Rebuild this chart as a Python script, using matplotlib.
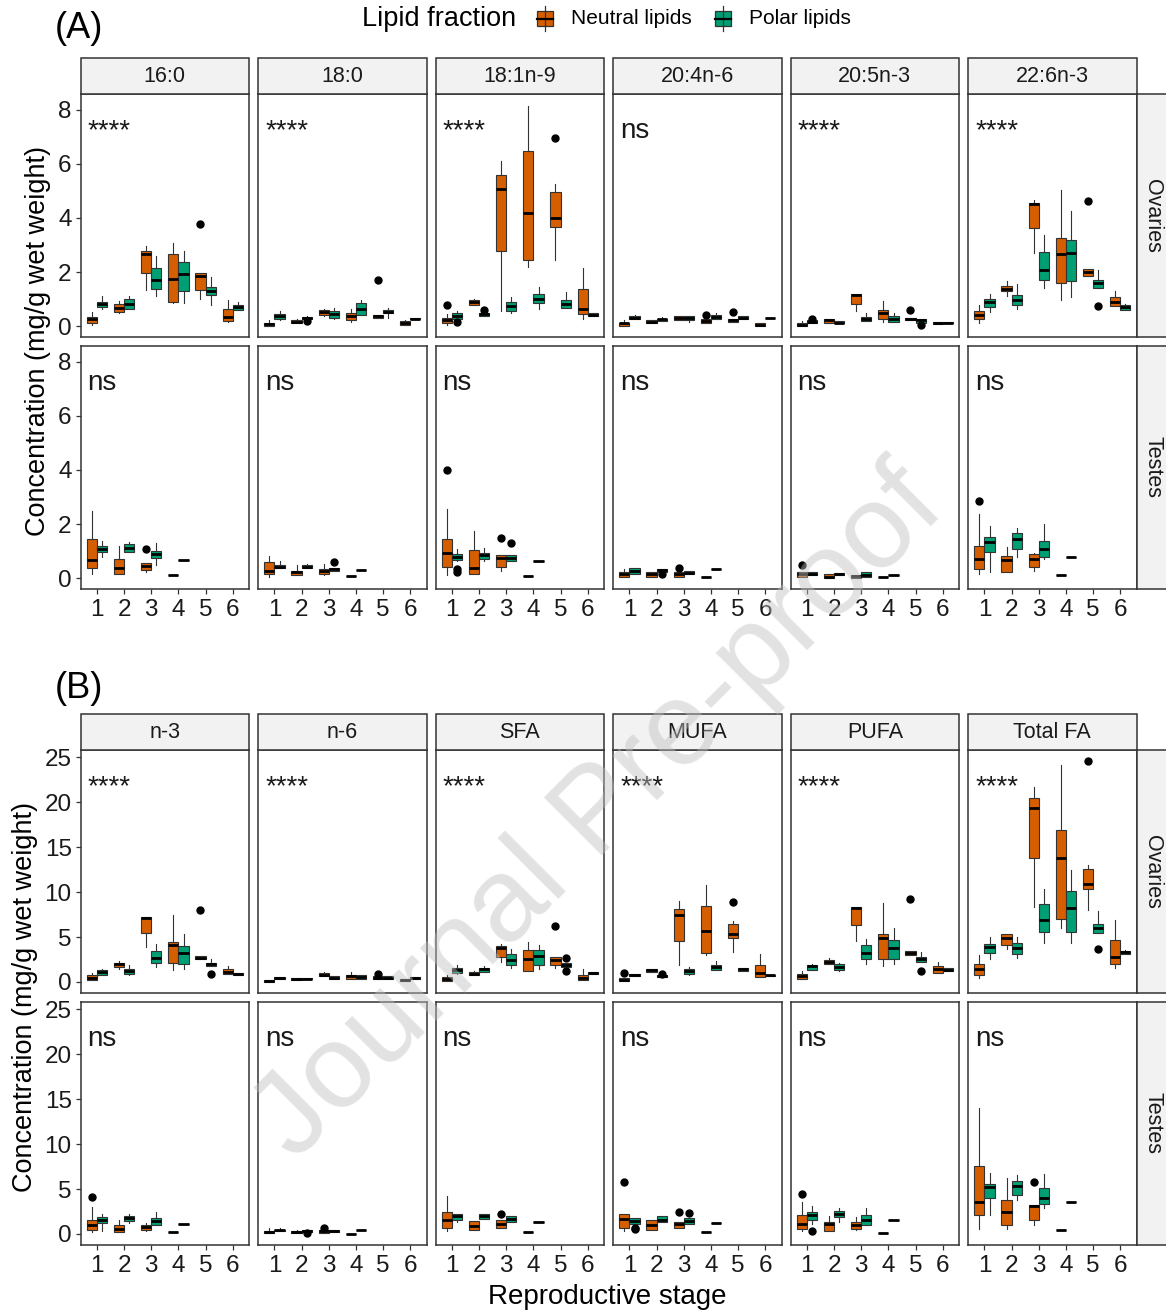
import matplotlib.pyplot as plt
from matplotlib.patches import Rectangle

plt.rcParams['font.family'] = ['Liberation Sans', 'DejaVu Sans']

# ---- data: per stage (lower whisker, q1, median, q3, upper whisker, [outliers]) ----
stages = [1, 2, 3, 4, 5, 6]
fractions = ["Neutral lipids", "Polar lipids"]
colors = ["#D55E00", "#009E73"]
tissues = ["Ovaries", "Testes"]

facets_A = ["16:0", "18:0", "18:1n-9", "20:4n-6", "20:5n-3", "22:6n-3"]
facets_B = ["n-3", "n-6", "SFA", "MUFA", "PUFA", "Total FA"]
signif_A = [("****", "ns"), ("****", "ns"), ("****", "ns"), ("ns", "ns"), ("****", "ns"), ("****", "ns")]
signif_B = [("****", "ns")] * 6

fa_16_0 = {
    "Ovaries": {
        "Neutral lipids": [(0.04, 0.12, 0.25, 0.34, 0.53), (0.49, 0.53, 0.69, 0.81, 0.93), (1.35, 1.96, 2.65, 2.77, 2.95),
                           (0.87, 0.91, 1.74, 2.67, 3.08), (1.02, 1.32, 1.86, 1.96, 1.96, [3.77]), (0.16, 0.18, 0.34, 0.63, 0.98)],
        "Polar lipids": [(0.65, 0.71, 0.81, 0.89, 1.10), (0.65, 0.65, 0.83, 1.00, 1.10), (1.10, 1.36, 1.69, 2.14, 2.61),
                         (0.86, 1.29, 1.92, 2.39, 2.78), (0.77, 1.16, 1.30, 1.45, 1.81), (0.61, 0.61, 0.70, 0.77, 0.89)],
    },
    "Testes": {
        "Neutral lipids": [(0.15, 0.37, 0.67, 1.44, 2.48), (0.17, 0.17, 0.37, 0.70, 1.19), (0.21, 0.31, 0.45, 0.55, 0.55, [1.09]),
                           (0.12, 0.12, 0.12, 0.12, 0.12), None, None],
        "Polar lipids": [(0.80, 0.98, 1.09, 1.19, 1.37), (0.98, 0.98, 1.13, 1.25, 1.34), (0.49, 0.74, 0.91, 1.01, 1.29),
                         (0.67, 0.67, 0.67, 0.67, 0.67), None, None],
    },
}

fa_18_0 = {
    "Ovaries": {
        "Neutral lipids": [(0.02, 0.02, 0.07, 0.13, 0.22), (0.12, 0.12, 0.17, 0.22, 0.27), (0.37, 0.43, 0.53, 0.59, 0.65),
                           (0.16, 0.22, 0.39, 0.49, 0.65), (0.29, 0.29, 0.37, 0.43, 0.43, [1.72]), (0.04, 0.04, 0.10, 0.18, 0.22)],
        "Polar lipids": [(0.22, 0.28, 0.37, 0.44, 0.56), (0.22, 0.25, 0.31, 0.34, 0.36, [0.20]), (0.28, 0.31, 0.44, 0.55, 0.69),
                         (0.40, 0.40, 0.63, 0.87, 0.96), (0.32, 0.47, 0.53, 0.59, 0.69), (0.25, 0.25, 0.28, 0.32, 0.32)],
    },
    "Testes": {
        "Neutral lipids": [(0.06, 0.17, 0.25, 0.60, 0.82), (0.11, 0.11, 0.21, 0.27, 0.48), (0.11, 0.17, 0.27, 0.33, 0.52),
                           (0.09, 0.09, 0.09, 0.09, 0.09), None, None],
        "Polar lipids": [(0.37, 0.37, 0.43, 0.49, 0.64), (0.38, 0.38, 0.43, 0.48, 0.52), (0.25, 0.25, 0.33, 0.39, 0.39, [0.61]),
                         (0.31, 0.31, 0.31, 0.31, 0.31), None, None],
    },
}

fa_18_1 = {
    "Ovaries": {
        "Neutral lipids": [(0.06, 0.12, 0.22, 0.32, 0.45, [0.77]), (0.80, 0.80, 0.89, 0.98, 1.02), (0.56, 2.79, 5.06, 5.59, 6.10),
                           (2.18, 2.46, 4.18, 6.47, 8.13), (2.45, 3.68, 3.98, 4.96, 5.27, [6.96]), (0.28, 0.44, 0.65, 1.37, 2.14)],
        "Polar lipids": [(0.20, 0.25, 0.37, 0.49, 0.56, [0.15]), (0.37, 0.37, 0.44, 0.49, 0.49, [0.61]), (0.49, 0.56, 0.74, 0.88, 1.08),
                         (0.65, 0.86, 1.02, 1.18, 1.45), (0.69, 0.69, 0.83, 0.98, 1.27), (0.37, 0.37, 0.42, 0.47, 0.47)],
    },
    "Testes": {
        "Neutral lipids": [(0.12, 0.42, 0.92, 1.44, 2.56, [4.01]), (0.17, 0.17, 0.39, 1.03, 1.74), (0.25, 0.42, 0.76, 0.85, 0.85, [1.48]),
                           (0.07, 0.07, 0.07, 0.07, 0.07), None, None],
        "Polar lipids": [(0.64, 0.67, 0.80, 0.91, 1.07, [0.33, 0.21]), (0.64, 0.72, 0.85, 0.94, 1.10), (0.64, 0.64, 0.74, 0.86, 0.86, [1.29]),
                         (0.63, 0.63, 0.63, 0.63, 0.63), None, None],
    },
}

fa_20_4 = {
    "Ovaries": {
        "Neutral lipids": [(0.02, 0.02, 0.10, 0.13, 0.22), (0.12, 0.12, 0.16, 0.22, 0.22), (0.22, 0.22, 0.29, 0.37, 0.37),
                           (0.12, 0.12, 0.20, 0.25, 0.25, [0.40]), (0.16, 0.16, 0.22, 0.28, 0.28, [0.53]), (0.02, 0.02, 0.06, 0.10, 0.13)],
        "Polar lipids": [(0.25, 0.25, 0.32, 0.37, 0.40), (0.20, 0.20, 0.25, 0.28, 0.34), (0.16, 0.22, 0.29, 0.37, 0.37),
                         (0.28, 0.28, 0.34, 0.40, 0.49), (0.25, 0.25, 0.31, 0.37, 0.37), (0.31, 0.31, 0.31, 0.32, 0.32)],
    },
    "Testes": {
        "Neutral lipids": [(0.05, 0.05, 0.15, 0.21, 0.33), (0.06, 0.06, 0.15, 0.21, 0.21), (0.05, 0.05, 0.17, 0.21, 0.21, [0.37]),
                           (0.06, 0.06, 0.06, 0.06, 0.06), None, None],
        "Polar lipids": [(0.17, 0.17, 0.27, 0.36, 0.39), (0.21, 0.21, 0.29, 0.33, 0.33, [0.17]), (0.15, 0.15, 0.20, 0.25, 0.25),
                         (0.34, 0.34, 0.34, 0.34, 0.34), None, None],
    },
}

fa_20_5 = {
    "Ovaries": {
        "Neutral lipids": [(0.00, 0.00, 0.05, 0.10, 0.18), (0.10, 0.12, 0.22, 0.25, 0.25), (0.56, 0.83, 1.15, 1.18, 1.18),
                           (0.16, 0.25, 0.49, 0.59, 0.93), (0.22, 0.22, 0.26, 0.31, 0.31, [0.59]), (0.07, 0.07, 0.11, 0.15, 0.15)],
        "Polar lipids": [(0.10, 0.10, 0.16, 0.22, 0.22, [0.28]), (0.10, 0.10, 0.13, 0.18, 0.18), (0.20, 0.20, 0.27, 0.34, 0.47),
                         (0.16, 0.16, 0.28, 0.38, 0.47), (0.12, 0.12, 0.22, 0.28, 0.28, [0.05]), (0.10, 0.10, 0.13, 0.17, 0.17)],
    },
    "Testes": {
        "Neutral lipids": [(0.05, 0.05, 0.15, 0.21, 0.21, [0.48]), (0.01, 0.01, 0.06, 0.15, 0.15), (0.01, 0.01, 0.09, 0.13, 0.13),
                           (0.04, 0.04, 0.04, 0.04, 0.04), None, None],
        "Polar lipids": [(0.10, 0.10, 0.17, 0.21, 0.21), (0.11, 0.11, 0.15, 0.18, 0.18), (0.06, 0.06, 0.13, 0.21, 0.21),
                         (0.13, 0.13, 0.13, 0.13, 0.13), None, None],
    },
}

fa_22_6 = {
    "Ovaries": {
        "Neutral lipids": [(0.12, 0.25, 0.40, 0.55, 0.80), (1.12, 1.29, 1.38, 1.47, 1.67), (2.71, 3.62, 4.53, 4.57, 4.66),
                           (0.96, 1.59, 2.67, 3.25, 5.02), (1.85, 1.85, 1.99, 2.10, 2.10, [4.63]), (0.75, 0.75, 0.88, 1.08, 1.30)],
        "Polar lipids": [(0.53, 0.71, 0.88, 1.00, 1.18), (0.65, 0.77, 0.96, 1.14, 1.57), (1.42, 1.72, 2.08, 2.73, 3.37),
                         (1.08, 1.67, 2.71, 3.19, 4.26), (1.42, 1.42, 1.59, 1.72, 2.06, [0.75]), (0.61, 0.61, 0.70, 0.77, 0.82)],
    },
    "Testes": {
        "Neutral lipids": [(0.15, 0.33, 0.72, 1.19, 2.36, [2.87]), (0.21, 0.21, 0.67, 0.82, 1.17), (0.25, 0.42, 0.70, 0.88, 0.94),
                           (0.11, 0.11, 0.11, 0.11, 0.11), None, None],
        "Polar lipids": [(0.21, 0.98, 1.35, 1.53, 1.93), (0.80, 1.09, 1.44, 1.68, 1.87), (0.70, 0.80, 1.09, 1.37, 2.01),
                         (0.79, 0.79, 0.79, 0.79, 0.79), None, None],
    },
}

n_3 = {
    "Ovaries": {
        "Neutral lipids": [(0.19, 0.19, 0.48, 0.81, 1.00), (1.48, 1.67, 1.96, 2.11, 2.30), (3.89, 5.44, 7.15, 7.22, 7.22),
                           (1.30, 2.15, 4.07, 4.44, 7.41), (2.59, 2.59, 2.70, 2.85, 2.85, [7.96]), (0.85, 0.85, 1.11, 1.41, 1.78)],
        "Polar lipids": [(0.81, 0.81, 1.11, 1.30, 1.41), (0.81, 0.93, 1.22, 1.41, 1.85), (1.67, 2.15, 2.70, 3.44, 4.19),
                         (1.48, 1.96, 3.26, 3.96, 5.37), (1.78, 1.78, 2.00, 2.15, 2.59, [0.85]), (0.81, 0.81, 0.93, 1.04, 1.04)],
    },
    "Testes": {
        "Neutral lipids": [(0.22, 0.44, 1.03, 1.51, 2.95, [4.06]), (0.22, 0.22, 0.55, 0.96, 1.51), (0.30, 0.48, 0.77, 1.03, 1.22),
                           (0.18, 0.18, 0.18, 0.18, 0.18), None, None],
        "Polar lipids": [(0.37, 1.22, 1.59, 1.85, 2.25), (1.22, 1.40, 1.77, 1.99, 2.25), (0.96, 0.96, 1.40, 1.77, 2.40),
                         (1.11, 1.11, 1.11, 1.11, 1.11), None, None],
    },
}

n_6 = {
    "Ovaries": {
        "Neutral lipids": [(0.00, 0.00, 0.07, 0.19, 0.19), (0.26, 0.26, 0.37, 0.44, 0.44), (0.63, 0.63, 0.81, 1.00, 1.11),
                           (0.37, 0.37, 0.63, 0.81, 1.11), (0.37, 0.37, 0.48, 0.63, 0.63, [0.93]), (0.07, 0.07, 0.19, 0.30, 0.30)],
        "Polar lipids": [(0.37, 0.37, 0.48, 0.56, 0.56), (0.30, 0.30, 0.37, 0.44, 0.44), (0.30, 0.30, 0.48, 0.63, 0.63),
                         (0.37, 0.37, 0.56, 0.74, 0.74), (0.37, 0.37, 0.48, 0.63, 0.63), (0.37, 0.37, 0.48, 0.56, 0.56)],
    },
    "Testes": {
        "Neutral lipids": [(0.11, 0.11, 0.22, 0.37, 0.66), (0.11, 0.11, 0.22, 0.30, 0.44), (0.15, 0.15, 0.30, 0.44, 0.44, [0.66]),
                           (0.04, 0.04, 0.04, 0.04, 0.04), None, None],
        "Polar lipids": [(0.30, 0.30, 0.41, 0.48, 0.66), (0.22, 0.22, 0.37, 0.48, 0.48, [0.11]), (0.22, 0.22, 0.30, 0.41, 0.41),
                         (0.41, 0.41, 0.41, 0.41, 0.41), None, None],
    },
}

sfa = {
    "Ovaries": {
        "Neutral lipids": [(0.11, 0.11, 0.37, 0.56, 0.74), (0.74, 0.74, 0.93, 1.11, 1.22), (2.22, 2.78, 3.78, 3.96, 4.26),
                           (1.22, 1.22, 2.59, 3.59, 4.44), (1.59, 1.85, 2.48, 2.78, 2.78, [6.19]), (0.19, 0.19, 0.44, 0.81, 1.41)],
        "Polar lipids": [(0.93, 1.04, 1.37, 1.59, 1.85), (1.11, 1.11, 1.41, 1.59, 1.78), (1.56, 1.85, 2.41, 3.07, 3.70),
                         (1.48, 1.85, 2.89, 3.59, 4.07), (1.67, 1.67, 1.93, 2.15, 2.15, [2.70, 1.22]), (0.93, 0.93, 1.04, 1.11, 1.11)],
    },
    "Testes": {
        "Neutral lipids": [(0.30, 0.66, 1.50, 2.50, 4.20), (0.44, 0.44, 0.90, 1.40, 1.40), (0.66, 0.66, 1.10, 1.55, 1.55, [2.20]),
                           (0.20, 0.20, 0.20, 0.20, 0.20), None, None],
        "Polar lipids": [(1.30, 1.50, 2.00, 2.20, 2.20), (1.70, 1.70, 2.00, 2.20, 2.20), (1.30, 1.30, 1.65, 2.00, 2.00),
                         (1.30, 1.30, 1.30, 1.30, 1.30), None, None],
    },
}

mufa = {
    "Ovaries": {
        "Neutral lipids": [(0.07, 0.07, 0.26, 0.48, 0.48, [1.00]), (1.11, 1.11, 1.30, 1.48, 1.48), (1.85, 4.56, 7.41, 8.15, 8.96),
                           (2.96, 3.26, 5.63, 8.44, 10.8), (3.33, 4.89, 5.30, 6.48, 6.74, [8.89]), (0.56, 0.56, 1.00, 1.85, 3.07)],
        "Polar lipids": [(0.63, 0.63, 0.78, 0.89, 0.89), (0.56, 0.56, 0.63, 0.74, 0.74, [0.93]), (0.74, 0.93, 1.19, 1.48, 1.67),
                         (1.37, 1.37, 1.67, 1.93, 2.30), (1.22, 1.22, 1.41, 1.59, 1.59), (0.67, 0.67, 0.74, 0.81, 0.81)],
    },
    "Testes": {
        "Neutral lipids": [(0.30, 0.66, 1.65, 2.20, 2.20, [5.75]), (0.44, 0.44, 1.00, 1.55, 1.55), (0.66, 0.66, 1.10, 1.30, 1.30, [2.50]),
                           (0.20, 0.20, 0.20, 0.20, 0.20), None, None],
        "Polar lipids": [(1.10, 1.10, 1.40, 1.80, 1.80, [0.66, 0.50]), (1.30, 1.30, 1.60, 2.00, 2.00), (1.10, 1.10, 1.40, 1.80, 1.80, [2.30]),
                         (1.20, 1.20, 1.20, 1.20, 1.20), None, None],
    },
}

pufa = {
    "Ovaries": {
        "Neutral lipids": [(0.37, 0.37, 0.63, 0.85, 1.22), (1.96, 1.96, 2.22, 2.41, 2.67), (4.52, 6.30, 8.26, 8.33, 8.33),
                           (1.74, 2.52, 4.89, 5.30, 8.81), (3.04, 3.04, 3.26, 3.44, 3.44, [9.26]), (1.00, 1.00, 1.41, 1.78, 2.22)],
        "Polar lipids": [(1.37, 1.37, 1.74, 1.93, 2.04), (1.22, 1.37, 1.67, 1.96, 2.15), (2.04, 2.52, 3.26, 4.07, 4.81),
                         (1.96, 2.52, 3.78, 4.70, 6.00), (2.22, 2.22, 2.56, 2.78, 3.33, [1.22]), (1.22, 1.22, 1.37, 1.56, 1.56)],
    },
    "Testes": {
        "Neutral lipids": [(0.30, 0.55, 1.14, 2.14, 3.54, [4.50]), (0.30, 0.30, 1.11, 1.33, 2.03), (0.41, 0.55, 1.03, 1.29, 1.88),
                           (0.15, 0.15, 0.15, 0.15, 0.15), None, None],
        "Polar lipids": [(1.07, 1.59, 2.07, 2.40, 3.06, [0.30]), (1.29, 1.85, 2.21, 2.51, 2.88), (1.03, 1.03, 1.59, 2.14, 2.88),
                         (1.55, 1.55, 1.55, 1.55, 1.55), None, None],
    },
}

total_fa = {
    "Ovaries": {
        "Neutral lipids": [(0.48, 0.74, 1.41, 2.04, 2.96), (3.63, 4.07, 4.93, 5.33, 5.33), (8.33, 13.8, 19.4, 20.5, 21.7),
                           (6.00, 6.96, 13.8, 16.9, 24.2), (8.04, 10.3, 10.9, 12.6, 13.0, [24.6]), (1.59, 1.96, 2.78, 4.70, 6.93)],
        "Polar lipids": [(2.59, 3.26, 3.89, 4.26, 5.00), (2.70, 3.15, 3.81, 4.33, 5.00), (4.37, 5.56, 6.93, 8.63, 10.3),
                         (4.37, 5.56, 8.26, 10.1, 12.5), (5.44, 5.44, 6.00, 6.48, 7.89, [3.70]), (3.15, 3.15, 3.33, 3.40, 3.60)],
    },
    "Testes": {
        "Neutral lipids": [(0.55, 2.14, 3.51, 7.56, 14.0), (0.55, 0.96, 2.44, 3.80, 6.20), (0.96, 1.55, 3.06, 3.25, 3.25, [5.83]),
                           (0.41, 0.41, 0.41, 0.41, 0.41), None, None],
        "Polar lipids": [(2.07, 3.99, 5.20, 5.57, 6.83), (3.73, 4.35, 5.39, 5.94, 6.57), (2.88, 3.36, 3.99, 5.09, 6.68),
                         (3.58, 3.58, 3.58, 3.58, 3.58), None, None],
    },
}

data_A = [fa_16_0, fa_18_0, fa_18_1, fa_20_4, fa_20_5, fa_22_6]
data_B = [n_3, n_6, sfa, mufa, pufa, total_fa]

# ---- layout (pixels) ----
W, H = 1166, 1313
fig = plt.figure(figsize=(W / 100, H / 100), dpi=100)
EDGE = "#333333"

col_x = [80.7 + i * 177.5 for i in range(6)]
col_w = 168.3


def px_axes(x0, y0, x1, y1):
    return fig.add_axes([x0 / W, 1 - y1 / H, (x1 - x0) / W, (y1 - y0) / H])


def to_stats(t):
    out = list(t[5]) if len(t) > 5 else []
    return dict(whislo=t[0], q1=t[1], med=t[2], q3=t[3], whishi=t[4], fliers=out)


def draw_facet(ax, facet, tissue, ylim, yticks, first_col, bottom_row):
    for k, frac in enumerate(fractions):
        stats, pos = [], []
        for s, t in zip(stages, facet[tissue][frac]):
            if t is None:
                continue
            stats.append(to_stats(t))
            pos.append(s + (k - 0.5) * 0.375)
        ax.bxp(stats, positions=pos, widths=0.375, patch_artist=True, showcaps=False, manage_ticks=False,
               boxprops=dict(facecolor=colors[k], edgecolor=EDGE, linewidth=0.8),
               whiskerprops=dict(color=EDGE, linewidth=0.8),
               medianprops=dict(color="black", linewidth=2.0, solid_capstyle="butt"),
               flierprops=dict(marker="o", markersize=5, markerfacecolor="black", markeredgecolor="black"))
    ax.set_xlim(0.4, 6.6)
    ax.set_ylim(*ylim)
    ax.set_xticks(stages)
    ax.set_yticks(yticks)
    for sp in ax.spines.values():
        sp.set_color(EDGE)
        sp.set_linewidth(1.1)
    ax.tick_params(axis="both", length=3.5, width=0.9, color=EDGE, labelsize=17.5, labelcolor="#1a1a1a")
    ax.tick_params(axis="x", pad=4)
    ax.tick_params(axis="y", pad=3)
    if not first_col:
        ax.tick_params(axis="y", left=False, labelleft=False)
    if not bottom_row:
        ax.tick_params(axis="x", bottom=False, labelbottom=False)


panels = [
    (data_A, facets_A, signif_A, [(94, 337), (346, 589)], (58, 94), (-0.40, 8.58), [0, 2, 4, 6, 8], "(A)", 28, 38),
    (data_B, facets_B, signif_B, [(750, 993), (1002, 1245)], (714, 750), (-1.23, 25.83), [0, 5, 10, 15, 20, 25], "(B)", 688, 25),
]

for data, names, sig, rows, strip, ylim, yticks, tag, tag_y, lab_x in panels:
    for r, (y0, y1) in enumerate(rows):
        for c in range(6):
            ax = px_axes(col_x[c], y0, col_x[c] + col_w, y1)
            draw_facet(ax, data[c], tissues[r], ylim, yticks, c == 0, r == 1)

# ---- overlay canvas for strips, labels, legend, watermark ----
cv = fig.add_axes([0, 0, 1, 1], zorder=10)
cv.set_xlim(0, W)
cv.set_ylim(H, 0)
cv.axis("off")
cv.patch.set_alpha(0)

for data, names, sig, rows, strip, ylim, yticks, tag, tag_y, lab_x in panels:
    s0, s1 = strip
    for c in range(6):
        cv.add_patch(Rectangle((col_x[c], s0), col_w, s1 - s0, facecolor="#F2F2F2", edgecolor=EDGE, linewidth=1.1))
        cv.text(col_x[c] + col_w / 2, (s0 + s1) / 2 + 1, names[c], ha="center", va="center", fontsize=15.5, color="#1a1a1a")
    for r, (y0, y1) in enumerate(rows):
        x_r = col_x[5] + col_w
        cv.add_patch(Rectangle((x_r, y0), 40, y1 - y0, facecolor="#F2F2F2", edgecolor=EDGE, linewidth=1.1, clip_on=False))
        cv.text(x_r + 16, (y0 + y1) / 2, tissues[r], rotation=270, ha="center", va="center", fontsize=15.5, color="#1a1a1a")
        for c in range(6):
            cv.text(col_x[c] + 7, y0 + 44, sig[c][r], ha="left", va="baseline", fontsize=20, color="#1a1a1a")
    cv.text(55, tag_y, tag, ha="left", va="center", fontsize=26, color="black")
    cv.text(lab_x, (rows[0][0] + rows[1][1]) / 2, "Concentration (mg/g wet weight)", rotation=90,
            ha="center", va="center", fontsize=19.5, color="black")

cv.text(607, 1297, "Reproductive stage", ha="center", va="center", fontsize=20, color="black")

# legend
cv.text(362, 19, "Lipid fraction", ha="left", va="center", fontsize=19.5, color="black")
for kx, lx, label, col in [(545, 571, fractions[0], colors[0]), (723, 749, fractions[1], colors[1])]:
    cv.plot([kx, kx], [6, 31], color=EDGE, linewidth=0.9)
    cv.add_patch(Rectangle((kx - 8, 11), 16, 15, facecolor=col, edgecolor=EDGE, linewidth=0.9))
    cv.plot([kx - 8, kx + 8], [18.5, 18.5], color="black", linewidth=1.6)
    cv.text(lx, 19, label, ha="left", va="center", fontsize=15, color="black")

# watermark
cv.text(600, 815, "Journal Pre-proof", rotation=45, rotation_mode="anchor", ha="center", va="center",
        fontsize=86, color="#c0c0c0", alpha=0.45)

fig.savefig("out.png", dpi=100)
